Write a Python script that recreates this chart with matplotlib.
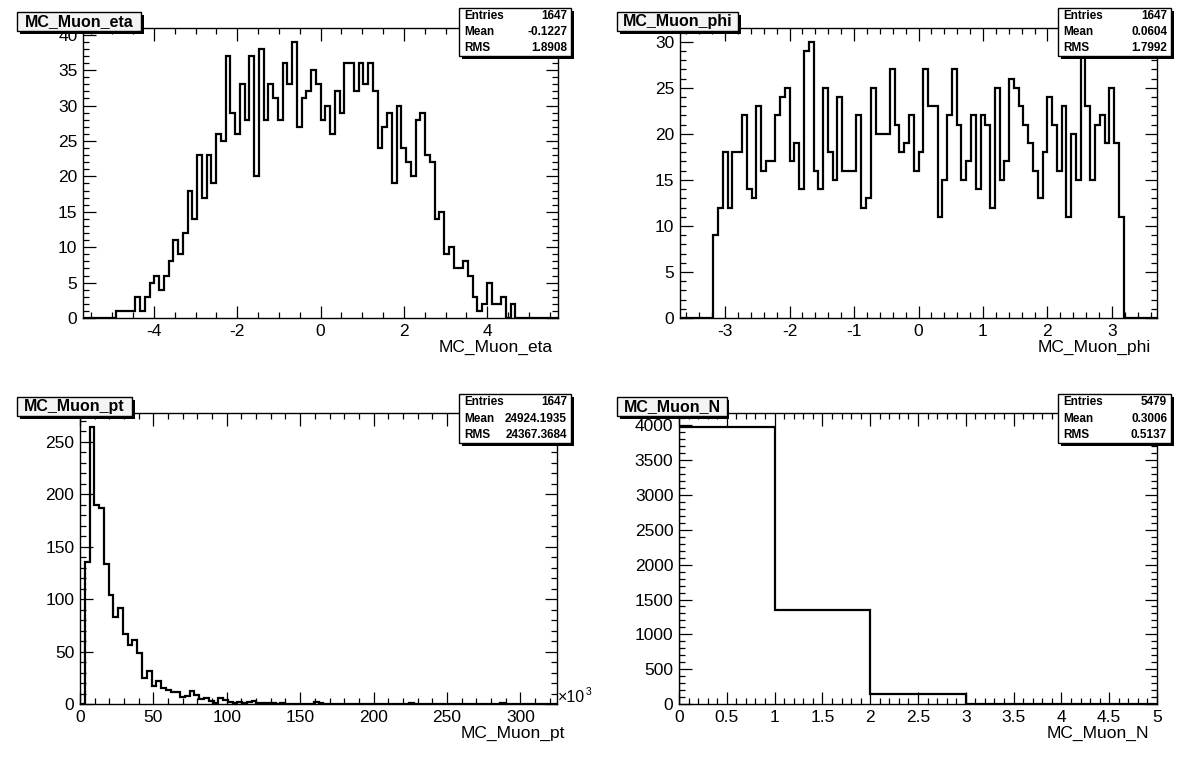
import numpy as np
import matplotlib
matplotlib.use('Agg')
import matplotlib.pyplot as plt
from matplotlib.patches import Rectangle
from matplotlib.ticker import MultipleLocator, FuncFormatter

W, H = 1196, 772
plt.rcParams['font.family'] = ['Liberation Sans', 'DejaVu Sans']
plt.rcParams['axes.unicode_minus'] = False

# ---------------- data ----------------
eta_range = (-5.7, 5.7)
eta_counts = ([0] * 7 + [1, 1, 1, 1] +
              [3, 1, 3, 5, 6, 4, 6, 8, 11, 9] +
              [12, 18, 14, 23, 17, 23, 19, 26, 25, 37] +
              [29, 26, 33, 28, 37, 20, 38, 28, 33, 31] +
              [28, 36, 33, 39, 27, 31, 32, 35, 33, 28] +
              [30, 26, 32, 29, 36, 36, 32, 36, 33, 36] +
              [32, 24, 27, 29, 19, 30, 24, 22, 20, 28] +
              [29, 23, 22, 14, 15, 9, 10, 7, 7, 8] +
              [6, 3, 1, 2, 5, 2, 2, 3, 0, 2] + [0] * 9)

phi_range = (-3.7, 3.7)
phi_counts = ([0] * 7 +
              [9, 12, 18, 12, 18, 18, 22, 14, 13, 23] +
              [16, 17, 17, 22, 24, 25, 17, 19, 14, 29] +
              [30, 16, 14, 25, 18, 15, 24, 16, 16, 16] +
              [22, 12, 13, 25, 20, 20, 20, 27, 21, 18] +
              [19, 22, 16, 18, 27, 23, 23, 11, 15, 22] +
              [27, 21, 15, 17, 22, 14, 22, 21, 12, 25] +
              [15, 17, 26, 25, 23, 21, 19, 16, 13, 18] +
              [24, 21, 16, 23, 11, 20, 15, 30, 23, 15] +
              [21, 22, 19, 25, 19, 11] + [0] * 7)

pt_range = (0, 325)  # in units of 10^3
pt_counts = [0] * 100
pt_nonzero = {1: 135, 2: 264, 3: 190, 4: 187, 5: 133, 6: 104, 7: 83, 8: 91, 9: 67, 10: 56,
              11: 61, 12: 49, 13: 25, 14: 31, 15: 17, 16: 22, 17: 15, 18: 13, 19: 11, 20: 11,
              21: 7, 22: 8, 23: 12, 24: 9, 25: 5, 26: 6, 27: 3, 28: 1, 29: 6, 30: 4,
              31: 2, 32: 1, 33: 2, 34: 1, 35: 2, 36: 3, 37: 1, 38: 1, 39: 1, 40: 1,
              42: 1, 49: 2, 50: 1, 69: 1, 88: 1}
for k, v in pt_nonzero.items():
    pt_counts[k] = v

n_range = (0, 5)
n_counts = [3979, 1353, 147, 0, 0]

stats = {
    'eta': ('1647', '-0.1227', '1.8908'),
    'phi': ('1647', '0.0604', '1.7992'),
    'pt': ('1647', '24924.1935', '24367.3684'),
    'N': ('5479', '0.3006', '0.5137'),
}

# ---------------- layout helpers ----------------
fig = plt.figure(figsize=(W / 100, H / 100), dpi=100)
fig.patch.set_facecolor('white')


def fx(x):
    return x / W


def fy(y):
    return 1 - y / H


def make_axes(x0, y0, x1, y1):
    return fig.add_axes([fx(x0), fy(y1), (x1 - x0) / W, (y1 - y0) / H])


def box(x0, y0, x1, y1, face, shadow=2.5):
    fig.add_artist(Rectangle((fx(x0 + shadow), fy(y1 + shadow)), (x1 - x0) / W, (y1 - y0) / H,
                             transform=fig.transFigure, facecolor='black', edgecolor='none', zorder=10))
    fig.add_artist(Rectangle((fx(x0), fy(y1)), (x1 - x0) / W, (y1 - y0) / H,
                             transform=fig.transFigure, facecolor=face, edgecolor='black',
                             linewidth=1.0, zorder=11))


def title_box(x0, y0, x1, y1, text):
    box(x0, y0, x1, y1, '#f4f4f4')
    fig.text(fx((x0 + x1) / 2), fy((y0 + y1) / 2), text, ha='center', va='center',
             fontsize=11.5, fontweight='bold', zorder=12)


def stats_box(x0, y0, x1, y1, vals):
    box(x0, y0, x1, y1, 'white')
    names = ['Entries', 'Mean', 'RMS']
    h = (y1 - y0) / 3
    for i, (n, v) in enumerate(zip(names, vals)):
        yc = y0 + h * (i + 0.5)
        fig.text(fx(x0 + 5), fy(yc), n, ha='left', va='center', fontsize=8.5,
                 fontweight='bold', zorder=12)
        fig.text(fx(x1 - 4), fy(yc), v, ha='right', va='center', fontsize=8.5,
                 fontweight='bold', zorder=12)


fmt = FuncFormatter(lambda v, p: '%g' % round(v, 6))


def style(ax, xr, counts, xmaj, xmin, ymaj, ymin):
    counts = np.asarray(counts, dtype=float)
    edges = np.linspace(xr[0], xr[1], len(counts) + 1)
    ax.stairs(counts, edges, color='black', linewidth=1.6, baseline=0)
    ax.set_xlim(*xr)
    ax.set_ylim(0, counts.max() * 1.05)
    ax.xaxis.set_major_locator(MultipleLocator(xmaj))
    ax.xaxis.set_minor_locator(MultipleLocator(xmin))
    ax.yaxis.set_major_locator(MultipleLocator(ymaj))
    ax.yaxis.set_minor_locator(MultipleLocator(ymin))
    ax.xaxis.set_major_formatter(fmt)
    ax.yaxis.set_major_formatter(fmt)
    ax.tick_params(which='both', direction='in', top=True, right=True, labeltop=False,
                   labelright=False, width=0.9, labelsize=12.5)
    ax.tick_params(which='major', length=9)
    ax.tick_params(which='minor', length=4.5)
    ax.tick_params(axis='x', which='major', pad=4)
    ax.tick_params(axis='y', which='major', pad=4)
    for s in ax.spines.values():
        s.set_linewidth(1.0)
    ax.set_facecolor('white')


# ---------------- panels ----------------
ax1 = make_axes(83, 28, 558, 318)
style(ax1, eta_range, eta_counts, 2, 0.5, 5, 1)
fig.text(fx(553), fy(347), 'MC_Muon_eta', ha='right', va='center', fontsize=12.5)
title_box(17, 12, 141, 31, 'MC_Muon_eta')
stats_box(459, 8, 571, 56, stats['eta'])

ax2 = make_axes(680, 28, 1157, 318)
style(ax2, phi_range, phi_counts, 1, 0.2, 5, 1)
fig.text(fx(1151), fy(347), 'MC_Muon_phi', ha='right', va='center', fontsize=12.5)
title_box(617, 12, 738, 31, 'MC_Muon_phi')
stats_box(1058, 8, 1171, 56, stats['phi'])

ax3 = make_axes(80, 413, 557, 704)
style(ax3, pt_range, pt_counts, 50, 10, 50, 10)
fig.text(fx(565), fy(733), 'MC_Muon_pt', ha='right', va='center', fontsize=12.5)
fig.text(fx(558), fy(698), '\u00d710', ha='left', va='center', fontsize=11.5)
fig.text(fx(585.5), fy(692), '3', ha='left', va='center', fontsize=7.5)
title_box(17, 397, 132, 416, 'MC_Muon_pt')
stats_box(459, 394, 571, 443, stats['pt'])

ax4 = make_axes(679, 413, 1157, 704)
style(ax4, n_range, n_counts, 0.5, 0.1, 500, 100)
fig.text(fx(1149), fy(733), 'MC_Muon_N', ha='right', va='center', fontsize=12.5)
title_box(617, 397, 727, 416, 'MC_Muon_N')
stats_box(1058, 394, 1171, 443, stats['N'])

fig.savefig('out.png', dpi=100, facecolor='white')
